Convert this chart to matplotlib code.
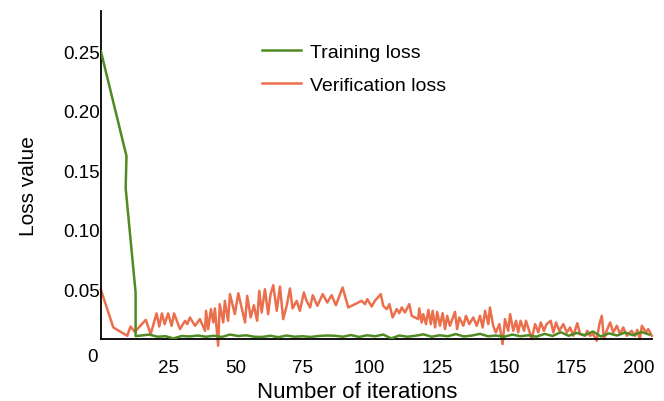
import numpy as np
import matplotlib
matplotlib.use("Agg")
import matplotlib.pyplot as plt

plt.rcParams['font.family'] = ['Liberation Sans', 'DejaVu Sans']

# training loss: steep drop in the first iterations, then flat near zero
train_head_x = [0, 9.5, 9.2, 12.9, 12.9]
train_head_y = [0.250, 0.162, 0.135, 0.047, 0.0105]
train_tail_x = np.arange(15, 205, 3)
train_tail_y = [0.0110, 0.0118, 0.0100, 0.0104, 0.0086, 0.0106, 0.0102, 0.0110,
                0.0100, 0.0108, 0.0098, 0.0118, 0.0106, 0.0112, 0.0100, 0.0098,
                0.0108, 0.0096, 0.0110, 0.0100, 0.0104, 0.0098, 0.0106, 0.0110,
                0.0108, 0.0100, 0.0114, 0.0098, 0.0112, 0.0104, 0.0118, 0.0086,
                0.0110, 0.0100, 0.0108, 0.0120, 0.0100, 0.0112, 0.0104, 0.0122,
                0.0102, 0.0110, 0.0124, 0.0104, 0.0110, 0.0100, 0.0118, 0.0104,
                0.0112, 0.0100, 0.0124, 0.0106, 0.0138, 0.0108, 0.0132, 0.0112,
                0.0144, 0.0102, 0.0128, 0.0110, 0.0136, 0.0112, 0.0140, 0.0118]

# verification loss
verif_x = [0, 4.6, 9.8, 11.0, 12.6, 16.7, 18.5, 20.7, 21.7, 22.7, 23.7, 25.0, 26.3,
           27.2, 29.4, 31.3, 32.1, 33.1, 35.0, 36.8, 38.7, 39.1, 39.9, 40.9, 41.8,
           42.4, 43.6, 44.2, 45.5, 46.1, 47.3, 48.0, 49.8, 51.1, 53.6, 54.4, 55.7,
           56.9, 58.1, 58.9, 59.8, 61.0, 62.2, 63.1, 64.1, 65.4, 66.6, 67.8, 69.1,
           70.3, 71.3, 72.8, 74.0, 75.5, 76.5, 77.8, 78.8, 80.5, 82.5, 84.2, 85.8,
           87.4, 89.9, 92.0, 97.0, 98.2, 99.1, 100.7, 101.9, 104.1, 105.0, 106.3,
           107.3, 108.5, 110.0, 111.0, 111.9, 113.1, 114.7, 115.6, 118.0, 118.4,
           119.3, 119.9, 120.9, 121.8, 122.7, 123.4, 124.3, 125.1, 126.1, 127.1,
           128.0, 128.8, 129.8, 131.7, 132.5, 133.3, 134.8, 135.8, 137.0, 138.5,
           139.8, 141.0, 142.0, 142.9, 144.1, 144.7, 145.9, 146.9, 148.2, 149.4,
           150.3, 151.5, 152.2, 153.4, 154.4, 155.2, 156.1, 157.4, 158.1, 159.3,
           160.2, 161.5, 162.7, 163.6, 164.8, 165.8, 167.3, 168.3, 169.3, 170.5,
           172.0, 173.3, 174.5, 175.7, 177.2, 178.2, 180.1, 180.9, 181.9, 183.1,
           184.4, 185.4, 186.3, 187.1, 188.1, 189.4, 190.6, 191.9, 193.1, 194.3,
           195.6, 197.4, 198.7, 199.5, 200.5, 201.2, 202.8, 203.6, 204.9]
verif_y = [0.0494, 0.0178, 0.0108, 0.0186, 0.0141, 0.0242, 0.0122, 0.0296, 0.0186,
           0.0296, 0.0206, 0.0296, 0.0192, 0.0296, 0.0164, 0.0234, 0.0206, 0.0262,
           0.0192, 0.0248, 0.0150, 0.0318, 0.0164, 0.0332, 0.0220, 0.0338, 0.0024,
           0.0374, 0.0220, 0.0402, 0.0234, 0.0458, 0.0290, 0.0466, 0.0220, 0.0444,
           0.0262, 0.0365, 0.0234, 0.0486, 0.0304, 0.0500, 0.0290, 0.0458, 0.0533,
           0.0318, 0.0522, 0.0248, 0.0360, 0.0506, 0.0338, 0.0402, 0.0318, 0.0472,
           0.0402, 0.0346, 0.0449, 0.0360, 0.0458, 0.0388, 0.0449, 0.0365, 0.0514,
           0.0346, 0.0402, 0.0374, 0.0416, 0.0354, 0.0402, 0.0458, 0.0360, 0.0332,
           0.0374, 0.0262, 0.0332, 0.0298, 0.0346, 0.0304, 0.0374, 0.0276, 0.0248,
           0.0338, 0.0220, 0.0290, 0.0206, 0.0326, 0.0206, 0.0318, 0.0178, 0.0309,
           0.0192, 0.0298, 0.0164, 0.0276, 0.0192, 0.0309, 0.0164, 0.0262, 0.0192,
           0.0276, 0.0206, 0.0262, 0.0192, 0.0276, 0.0178, 0.0318, 0.0206, 0.0346,
           0.0192, 0.0136, 0.0206, 0.0038, 0.0248, 0.0150, 0.0290, 0.0150, 0.0234,
           0.0136, 0.0234, 0.0150, 0.0234, 0.0150, 0.0080, 0.0206, 0.0136, 0.0220,
           0.0150, 0.0206, 0.0234, 0.0136, 0.0220, 0.0150, 0.0206, 0.0136, 0.0178,
           0.0108, 0.0214, 0.0122, 0.0108, 0.0150, 0.0108, 0.0122, 0.0066, 0.0206,
           0.0276, 0.0080, 0.0150, 0.0220, 0.0136, 0.0192, 0.0122, 0.0178, 0.0108,
           0.0150, 0.0108, 0.0158, 0.0080, 0.0192, 0.0136, 0.0164, 0.0108]

yticks = [0.05, 0.10, 0.15, 0.20, 0.25]
xticks = [25, 50, 75, 100, 125, 150, 175, 200]

green = '#4f8a23'
orange = '#eb6f4c'

fig = plt.figure(figsize=(6.64, 4.02), dpi=100)
ax = fig.add_axes([0.152, 0.154, 0.830, 0.816])

train_x = list(train_head_x) + list(train_tail_x)
train_y = list(train_head_y) + list(train_tail_y)
ax.plot(train_x, train_y, color=green, linewidth=1.8, label='Training loss', zorder=3)
ax.plot(verif_x, verif_y, color=orange, linewidth=1.8, label='Verification loss',
        clip_on=False, zorder=2)

ax.set_xlim(0, 205)
ax.set_ylim(0.008, 0.284)
ax.set_xticks(xticks)
ax.set_yticks(yticks)
ax.set_yticklabels(['%.2f' % v for v in yticks])
ax.tick_params(axis='both', length=0, labelsize=13.5)
ax.tick_params(axis='y', pad=1)
ax.tick_params(axis='x', pad=14)
ax.text(-0.006, -0.028, '0', transform=ax.transAxes, ha='right', va='top', fontsize=13.5)

for s in ['top', 'right']:
    ax.spines[s].set_visible(False)
for s in ['left', 'bottom']:
    ax.spines[s].set_linewidth(1.3)
    ax.spines[s].set_color('black')

ax.set_xlabel('Number of iterations', fontsize=16)
ax.xaxis.set_label_coords(0.465, -0.129)
ax.set_ylabel('Loss value', fontsize=15)
ax.yaxis.set_label_coords(-0.114, 0.47)

fig.legend(loc='upper left', bbox_to_anchor=(262 / 664, 1 - 44 / 402),
           bbox_transform=fig.transFigure, frameon=False, fontsize=14,
           borderpad=0, borderaxespad=0, handlelength=2.0, handletextpad=0.46,
           labelspacing=0.8)

fig.savefig('out.png', dpi=100)
